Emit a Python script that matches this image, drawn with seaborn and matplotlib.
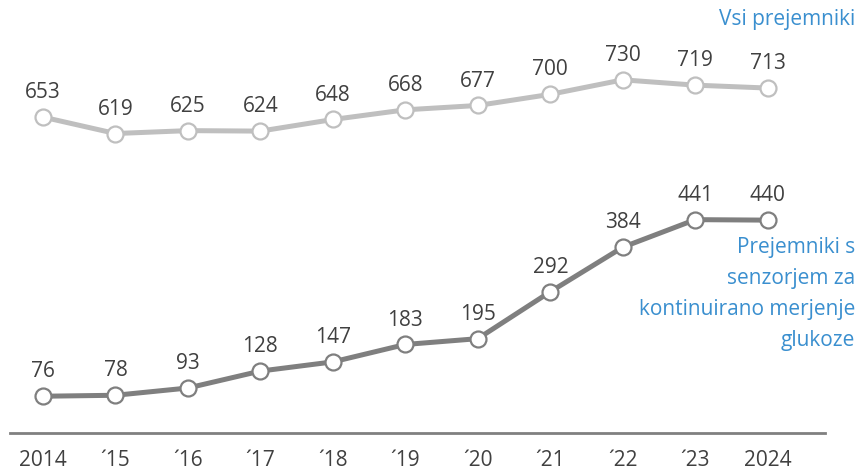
import numpy as np
import pandas as pd
import matplotlib.pyplot as plt
import seaborn as sns

# Data
years = ["2014", "´15", "´16", "´17", "´18", "´19", "´20", "´21", "´22", "´23", "2024"]
all_recipients = [653, 619, 625, 624, 648, 668, 677, 700, 730, 719, 713]
sensor_recipients = [76, 78, 93, 128, 147, 183, 195, 292, 384, 441, 440]

sns.set_theme(style="white")
plt.rcParams['font.family'] = ['Open Sans', 'DejaVu Sans']

text_col = "#404040"
blue = "#3A8FCF"
light = "#BFBFBF"
dark = "#7F7F7F"
fs = 15

fig = plt.figure(figsize=(8.63, 4.69), dpi=100)
ax = fig.add_axes([10 / 863, 36 / 469, 815 / 863, 433 / 469])

x = np.arange(len(years))
df = pd.DataFrame({"x": x, "all": all_recipients, "sensor": sensor_recipients})

for col, color in [("all", light), ("sensor", dark)]:
    sns.lineplot(data=df, x="x", y=col, ax=ax, color=color, linewidth=3.6,
                 marker="o", markersize=11.5, markerfacecolor="white",
                 markeredgecolor=color, markeredgewidth=1.6)
    for xi, v in zip(df["x"], df[col]):
        ax.annotate(str(v), (xi, v), xytext=(0, 10), textcoords="offset points",
                    ha="center", va="bottom", fontsize=fs, color=text_col)

ax.set_xlim(-0.455, 10.79)
ax.set_ylim(0, 895)
ax.set_xticks(x)
ax.set_xticklabels(years, fontsize=fs, color=text_col)
ax.tick_params(axis="x", length=0, pad=12)
ax.set_yticks([])
ax.set_xlabel("")
ax.set_ylabel("")
for s in ["top", "right", "left"]:
    ax.spines[s].set_visible(False)
ax.spines["bottom"].set_color("#808080")
ax.spines["bottom"].set_linewidth(2)

fig.text(855 / 863, 1 - 20 / 469, "Vsi prejemniki", ha="right", va="center",
         fontsize=fs, color=blue)
fig.text(855 / 863, 1 - 294 / 469,
         "Prejemniki s\nsenzorjem za\nkontinuirano merjenje\nglukoze",
         ha="right", va="center", fontsize=fs, color=blue, linespacing=1.63,
         multialignment="right")

fig.savefig("out.png", dpi=100)
